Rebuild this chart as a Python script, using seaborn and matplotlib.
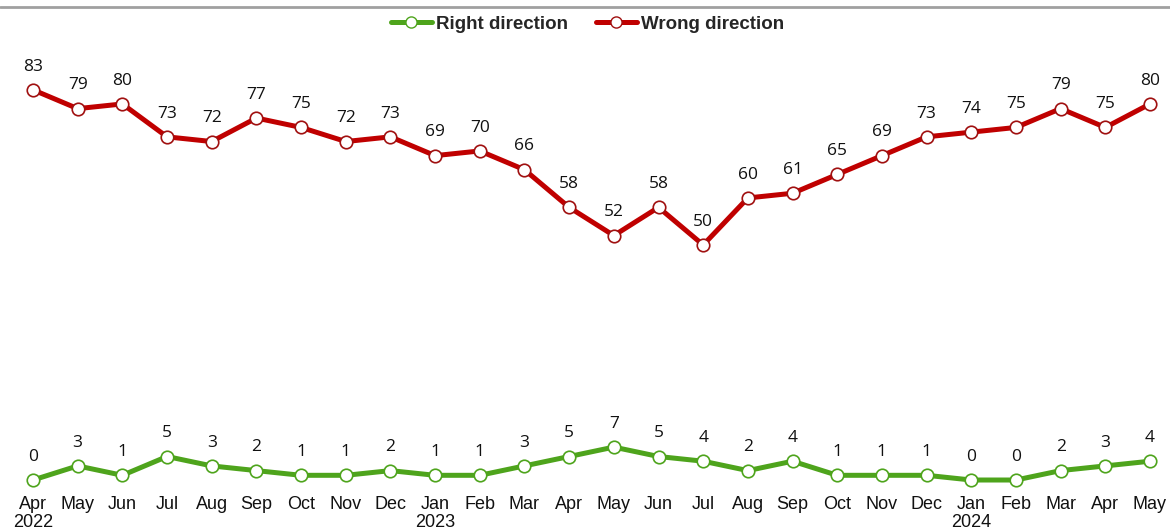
import pandas as pd
import seaborn as sns
import matplotlib.pyplot as plt
from matplotlib.lines import Line2D

months = ["Apr", "May", "Jun", "Jul", "Aug", "Sep", "Oct", "Nov", "Dec", "Jan", "Feb", "Mar", "Apr",
          "May", "Jun", "Jul", "Aug", "Sep", "Oct", "Nov", "Dec", "Jan", "Feb", "Mar", "Apr", "May"]
years = {0: "2022", 9: "2023", 21: "2024"}
right_direction = [0, 3, 1, 5, 3, 2, 1, 1, 2, 1, 1, 3, 5, 7, 5, 4, 2, 4, 1, 1, 1, 0, 0, 2, 3, 4]
wrong_direction = [83, 79, 80, 73, 72, 77, 75, 72, 73, 69, 70, 66, 58, 52, 58, 50, 60, 61, 65, 69,
                   73, 74, 75, 79, 75, 80]

GREEN = "#4ea41c"
RED = "#c00000"


def build_frame():
    idx = list(range(len(months)))
    df = pd.DataFrame({"idx": idx * 2,
                       "value": right_direction + wrong_direction,
                       "series": ["Right direction"] * len(idx) + ["Wrong direction"] * len(idx)})
    return df


def draw(df):
    sns.set_theme(style="white")
    plt.rcParams["font.family"] = ["Liberation Sans", "DejaVu Sans"]

    fig = plt.figure(figsize=(11.7, 5.3), dpi=100)
    ax = fig.add_axes([0, 42 / 530, 1, 448 / 530])

    styles = {"Right direction": (GREEN, GREEN), "Wrong direction": (RED, "#a01010")}
    for name, (col, edge) in styles.items():
        sub = df[df["series"] == name]
        sns.lineplot(data=sub, x="idx", y="value", ax=ax, color=col, lw=3.6,
                     marker="o", markersize=9, markerfacecolor="white",
                     markeredgecolor=edge, markeredgewidth=1.2, legend=False)
        for x, v in zip(sub["idx"], sub["value"]):
            ax.annotate(str(v), (x, v), xytext=(0, 11), textcoords="offset points",
                        ha="center", va="bottom", fontsize=12.5, family="Open Sans",
                        color="#111111")

    ax.set_xlim(-33 / 44.68, (1170 - 33) / 44.68)
    ax.set_ylim(-1.7, 93.6)
    ax.set_xticks(range(len(months)))
    labels = [m + ("\n" + years[i] if i in years else "\n") for i, m in enumerate(months)]
    ax.set_xticklabels(labels, fontsize=13, color="#111111", linespacing=1.05)
    ax.tick_params(axis="x", length=0, pad=6)
    ax.set_yticks([])
    ax.set_xlabel("")
    ax.set_ylabel("")
    for s in ax.spines.values():
        s.set_visible(False)

    handles = [Line2D([], [], color=GREEN, lw=3.6, marker="o", markersize=8,
                      markerfacecolor="white", markeredgecolor=GREEN),
               Line2D([], [], color=RED, lw=3.6, marker="o", markersize=8,
                      markerfacecolor="white", markeredgecolor="#a01010")]
    fig.legend(handles, ["Right direction", "Wrong direction"], loc="center",
               bbox_to_anchor=(0.502, 1 - 24 / 530), ncol=2, frameon=False,
               handlelength=2.2, handletextpad=0.2, columnspacing=1.5,
               prop={"weight": "bold", "size": 13.5})

    fig.add_artist(Line2D([0, 1], [1 - 7 / 530, 1 - 7 / 530], color="#a0a0a0", lw=2))

    fig.savefig("out.png", dpi=100)
    plt.close(fig)


def main():
    draw(build_frame())


if __name__ == "__main__":
    main()
